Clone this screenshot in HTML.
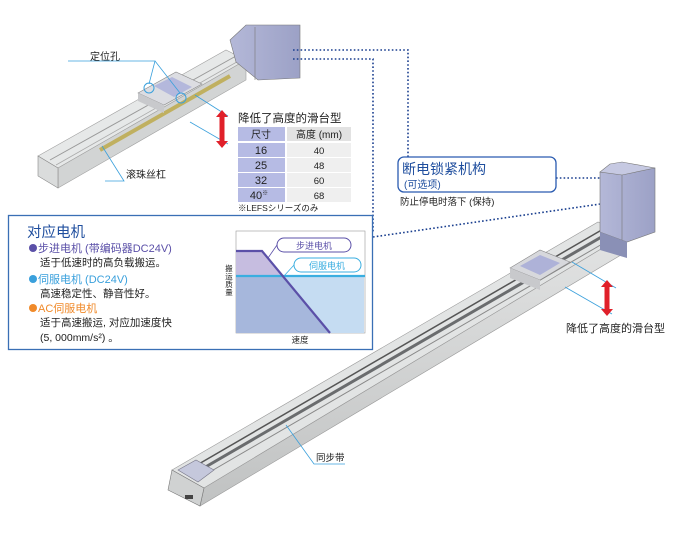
<!DOCTYPE html>
<html><head><meta charset="utf-8"><style>
body{margin:0;background:#fff;width:690px;height:532px;overflow:hidden;font-family:"Liberation Sans","Noto Sans CJK SC",sans-serif}
svg text{font-family:"Liberation Sans","Noto Sans CJK SC",sans-serif}
</style></head><body>
<svg width="690" height="532" viewBox="0 0 690 532" xmlns="http://www.w3.org/2000/svg">
<defs>
<linearGradient id="mot" x1="0" y1="0" x2="1" y2="0"><stop offset="0" stop-color="#b4b8d8"/><stop offset="1" stop-color="#9ca1c6"/></linearGradient>
<linearGradient id="rail" x1="0" y1="0" x2="0" y2="1"><stop offset="0" stop-color="#e2e3e3"/><stop offset="1" stop-color="#c0c2c2"/></linearGradient>
</defs>
<!-- small actuator -->
<polygon points="38,156 226,50 246,60 58,168" fill="#e6e8e8" stroke="#a0a0a0" stroke-width="0.6"/>
<polygon points="58,168 246,60 246,80 58,188" fill="#d2d4d4" stroke="#a0a0a0" stroke-width="0.6"/>
<polygon points="38,156 58,168 58,188 38,176" fill="#dadcdc" stroke="#888" stroke-width="0.6"/>
<line x1="100" y1="150" x2="230" y2="76" stroke="#c0b060" stroke-width="4"/>
<line x1="50" y1="160" x2="236" y2="56" stroke="#999" stroke-width="1"/>
<line x1="56" y1="165" x2="242" y2="59" stroke="#aaa" stroke-width="0.8"/>
<polygon points="138,93 176,72 202,84 164,105" fill="#dcdde2" stroke="#888" stroke-width="0.6"/>
<polygon points="154,86 172,77 192,87 174,97" fill="#b4b8dc"/>
<polygon points="138,93 164,105 164,113 138,101" fill="#c8c9cc"/>
<polygon points="230,40 246,25 300,25 300,78 258,80 236,62" fill="url(#mot)" stroke="#777" stroke-width="0.6"/>
<line x1="255" y1="27" x2="255" y2="80" stroke="#777" stroke-width="0.6"/>
<circle cx="149" cy="88" r="5" fill="none" stroke="#3aa0dc"/><circle cx="181" cy="98" r="5" fill="none" stroke="#3aa0dc"/>
<polyline points="68,61 155,61 149,84" fill="none" stroke="#3aa0dc" stroke-width="0.8"/><line x1="155" y1="61" x2="180" y2="93" stroke="#3aa0dc" stroke-width="0.8"/>
<polyline points="105,181 124,181 102,146" fill="none" stroke="#3aa0dc" stroke-width="0.8"/>
<text x="90" y="60" font-size="10" fill="#222">定位孔</text>
<text x="126" y="178" font-size="10" fill="#222">滚珠丝杠</text>
<line x1="195" y1="95" x2="228" y2="116" stroke="#3aa0dc" stroke-width="0.8"/><line x1="190" y1="122" x2="228" y2="144" stroke="#3aa0dc" stroke-width="0.8"/>
<line x1="222" y1="114" x2="222" y2="144" stroke="#e0202a" stroke-width="5"/>
<polygon points="216,117 222,110 228,117" fill="#e0202a"/><polygon points="216,141 222,148 228,141" fill="#e0202a"/>
<!-- table -->
<text x="238" y="122" font-size="11.5" fill="#222">降低了高度的滑台型</text>
<rect x="238" y="127" width="47" height="14" fill="#b6bbe4"/><rect x="287" y="127" width="64" height="14" fill="#e2e2e2"/>
<g font-size="10" fill="#222" text-anchor="middle">
<text x="261" y="138">尺寸</text><text x="319" y="138">高度 (mm)</text></g>
<g font-size="11" fill="#222" text-anchor="middle">
<rect x="238" y="143" width="47" height="14" fill="#b6bbe4"/><rect x="287" y="143" width="64" height="14" fill="#efefef"/><text x="261" y="154">16</text><text x="319" y="154" font-size="9.5">40</text>
<rect x="238" y="158" width="47" height="14" fill="#b6bbe4"/><rect x="287" y="158" width="64" height="14" fill="#efefef"/><text x="261" y="169">25</text><text x="319" y="169" font-size="9.5">48</text>
<rect x="238" y="173" width="47" height="14" fill="#b6bbe4"/><rect x="287" y="173" width="64" height="14" fill="#efefef"/><text x="261" y="184">32</text><text x="319" y="184" font-size="9.5">60</text>
<rect x="238" y="188" width="47" height="14" fill="#b6bbe4"/><rect x="287" y="188" width="64" height="14" fill="#efefef"/><text x="259" y="199">40<tspan font-size="6" dy="-4">※</tspan></text><text x="319" y="199" font-size="9.5">68</text>
</g>
<text x="238" y="211" font-size="8.5" fill="#222">※LEFSシリーズのみ</text>
<!-- dotted connectors -->
<g stroke="#1a3f8f" stroke-width="1.6" stroke-dasharray="1.6,2.2" fill="none">
<polyline points="293,50 408,50 408,157"/>
<polyline points="293,59 373,59 373,232"/>
<line x1="373" y1="237" x2="614" y2="202"/>
<line x1="556" y1="178" x2="618" y2="178"/>
</g>
<circle cx="618" cy="178" r="2" fill="#1a3f8f"/><circle cx="614" cy="201" r="2" fill="#1a3f8f"/>
<!-- callout -->
<rect x="398" y="157" width="158" height="35" rx="6" fill="#fff" stroke="#2a5bb0" stroke-width="1.3"/>
<text x="402" y="174" font-size="14" fill="#1f4e9e">断电锁紧机构</text>
<text x="404" y="188" font-size="10" fill="#1f4e9e">(可选项)</text>
<text x="400" y="205" font-size="9.5" fill="#222">防止停电时落下 (保持)</text>
<!-- big actuator -->
<polygon points="172,470 598,222 626,234 204,488" fill="#e2e4e4" stroke="#999" stroke-width="0.6"/>
<polygon points="204,488 626,234 626,252 200,506" fill="url(#rail)" stroke="#999" stroke-width="0.6"/>
<polygon points="172,470 204,488 200,506 168,490" fill="#d0d2d2" stroke="#777" stroke-width="0.6"/>
<line x1="185" y1="472" x2="605" y2="228" stroke="#555" stroke-width="1.5"/>
<line x1="190" y1="476" x2="610" y2="232" stroke="#6a6c6e" stroke-width="3"/>
<line x1="196" y1="480" x2="616" y2="236" stroke="#888" stroke-width="1"/>
<polygon points="178,470 196,460 214,470 198,482" fill="#c5c8dc" stroke="#778" stroke-width="0.6"/>
<rect x="185" y="495" width="8" height="4" fill="#444"/>
<polygon points="600,172 622,172 655,168 655,232 627,242 600,232" fill="url(#mot)" stroke="#777" stroke-width="0.6"/>
<polygon points="600,172 610,164 622,162 655,168 622,175" fill="#c6c9e2" stroke="#777" stroke-width="0.6"/>
<line x1="622" y1="175" x2="622" y2="242" stroke="#777" stroke-width="0.6"/>
<polygon points="600,232 627,242 627,258 600,250" fill="#8a90b6"/>
<polygon points="510,268 540,250 570,262 540,280" fill="#d7d8dc" stroke="#888" stroke-width="0.6"/>
<polygon points="520,266 540,255 560,263 540,275" fill="#aeb2d8"/>
<polygon points="510,268 540,280 540,290 510,278" fill="#c8c9cc"/>
<line x1="572" y1="262" x2="616" y2="288" stroke="#3aa0dc" stroke-width="0.8"/><line x1="565" y1="287" x2="612" y2="314" stroke="#3aa0dc" stroke-width="0.8"/>
<line x1="607" y1="284" x2="607" y2="312" stroke="#e0202a" stroke-width="5"/>
<polygon points="601,287 607,280 613,287" fill="#e0202a"/><polygon points="601,309 607,316 613,309" fill="#e0202a"/>
<text x="566" y="332" font-size="11" fill="#222">降低了高度的滑台型</text>
<polyline points="286,425 314,464 345,464" fill="none" stroke="#3aa0dc" stroke-width="0.8"/>
<text x="316" y="461" font-size="9.5" fill="#222">同步带</text>
<!-- motor box -->
<rect x="8.5" y="215.5" width="364" height="134" fill="#fff" stroke="#3a6fb5" stroke-width="1.3"/>
<text x="27" y="237" font-size="14.5" fill="#1f4e9e">对应电机</text>
<circle cx="33" cy="248" r="4" fill="#5b50a8"/><text x="38" y="252" font-size="11" fill="#5b50a8">步进电机 (带编码器DC24V)</text>
<text x="40" y="266" font-size="10.5" fill="#222">适于低速时的高负载搬运。</text>
<circle cx="33" cy="279" r="4" fill="#3aa0dc"/><text x="38" y="283" font-size="11" fill="#3aa0dc">伺服电机 (DC24V)</text>
<text x="40" y="297" font-size="10.5" fill="#222">高速稳定性、静音性好。</text>
<circle cx="33" cy="308" r="4" fill="#f08a2a"/><text x="38" y="312" font-size="11" fill="#f08a2a">AC伺服电机</text>
<text x="40" y="326" font-size="10.5" fill="#222">适于高速搬运, 对应加速度快</text>
<text x="40" y="341" font-size="10.5" fill="#222">(5, 000mm/s²) 。</text>
<rect x="236" y="231" width="129" height="102" fill="#fff" stroke="#999" stroke-width="0.6"/>
<polygon points="236,276 364,276 364,333 236,333" fill="#c5dcf2"/>
<polygon points="236,251 262,251 330,333 236,333" fill="#a6b7dc"/>
<polygon points="236,251 262,251 283,276 236,276" fill="#c6bde0"/>
<line x1="236" y1="276" x2="365" y2="276" stroke="#3aaee0" stroke-width="2.2"/>
<polyline points="236,251 262,251 330,333" fill="none" stroke="#5b50a8" stroke-width="2.2"/>
<rect x="277" y="238" width="74" height="14" rx="7" fill="#fff" stroke="#5b50a8"/><text x="314" y="249" font-size="9" fill="#5b50a8" text-anchor="middle">步进电机</text>
<line x1="277" y1="245" x2="268" y2="258" stroke="#5b50a8" stroke-width="0.8"/>
<rect x="294" y="258" width="67" height="14" rx="7" fill="#fff" stroke="#3aaee0"/><text x="327" y="269" font-size="9" fill="#3aaee0" text-anchor="middle">伺服电机</text>
<line x1="294" y1="265" x2="284" y2="276" stroke="#3aaee0" stroke-width="0.8"/>
<g font-size="7.5" fill="#222" text-anchor="middle"><text x="229" y="271">搬</text><text x="229" y="279">运</text><text x="229" y="287">质</text><text x="229" y="295">量</text></g>
<text x="300" y="343" font-size="8.5" fill="#222" text-anchor="middle">速度</text>
</svg>
</body></html>
